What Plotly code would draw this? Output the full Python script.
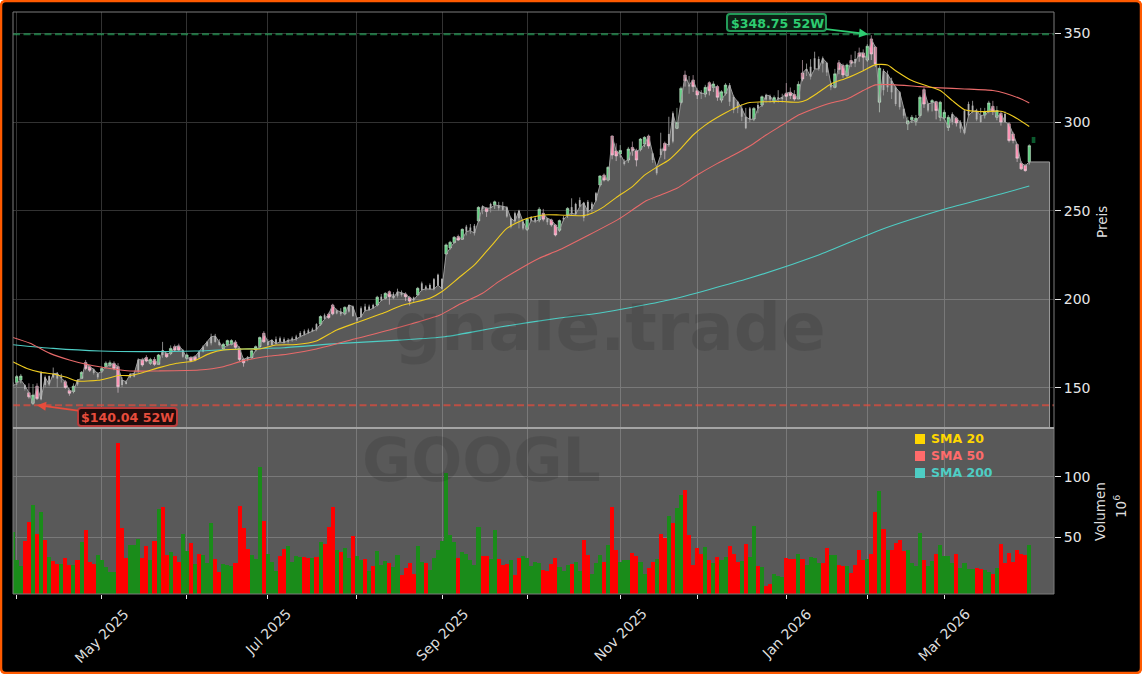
import plotly.graph_objects as go

W, H = 1142, 674
L, R, T, B = 13, 1054, 12, 594
SPLIT = 428

opens = [151,153,154.5,151.5,147.3,141.3,151,143.6,156,152,
158,158.3,155.5,153.5,148.5,148,154.5,155.4,164.4,162,
160.5,158,159.5,162,162.8,163.9,162,154.5,153.5,157.8,
158.2,166,165.8,167.2,163.9,166.1,163.3,171.4,169.5,169.5,
173.3,173.7,171.4,166.7,167.2,167.6,170.5,173.3,176,178.9,
179.3,176,172.3,174.2,174.6,175.9,172.3,166.1,167.2,167.2,
171.4,173.3,180.8,176,177,175,176,175.5,177,177,
177.5,179,180,181,182,183,186,189,191.6,196.8,
193.7,193,191.8,196.8,195.9,189.3,190,193.7,194,195,
196.8,199.3,200.6,204.3,200.6,204.3,203.8,203,201,199.5,
202.5,205.3,205.9,205.7,205.7,208,206,225.6,229,232,
235.4,233.9,238.2,238.8,237.3,244.2,252.5,251.4,251.5,253.2,
253,252.5,251.9,245.7,244,250,243.8,239.5,244.4,244,
244.8,248.5,245.7,244.8,241.9,239,245,247.6,248.5,248,
252.3,254.5,249.5,251,255.7,264.5,270.1,267.3,292.1,283.7,
282,277.7,278.6,285.7,283.7,284.6,287.6,292.1,282.4,274.5,
281.4,288,287,304.9,296.5,311.1,326.5,321,323.7,317.7,
316.5,315.8,322.2,319.6,320,312.4,316.2,320.9,314.3,311.5,
307.7,303,301.5,301.7,307.7,309.6,315.3,314.7,311.5,313,
314,316.3,316.8,315.5,313,327.7,330,325.6,330,330,
336,333.4,321.5,319.6,333.4,331.9,326.2,334.7,333.2,339,
339,335,346.9,342.2,311.2,329,327,323.4,319.6,316.8,
307.4,299,301.2,300.4,303.7,318.3,310.2,311,311.5,302.7,
302.2,297,304.6,302.2,300,293.7,303.7,306,306.5,303.7,
304,306,308.9,302.7,305,300,299,293.3,287.3,276.8,
275.5,277.5]

closes = [153,156.4,156.7,149.5,145,146,144,158.6,151.7,156.7,
156,155.3,156.5,150.3,147,151,152,158.8,161,160,
158.5,156,161,164,164.2,161,150.7,151.7,152.2,156,
156.4,159.2,163,165.2,166.1,163.3,168.6,168.6,167.6,172.3,
171.4,171.4,167.6,168.6,165.4,165.8,167.2,170.5,173.7,175.2,
176,174.2,174.6,176.7,176.7,172.9,166.1,164.2,165.8,171,
173.3,178.5,176,174.2,174.2,177.5,178,177.5,176,178,
179,181,182,182.5,183,186,190.3,191,189.7,191.8,
192,191.6,195.5,193.1,190.6,188,195,196,195.9,196.8,
201.2,201.5,203.4,201.5,203,202,202.5,201.5,199,201,
206.2,209,207.2,208.1,211.3,213.8,211.5,230.7,232.2,235,
233.5,239.5,241,240.5,241.5,251.9,251,249.5,253.8,255,
251.4,250.5,246.7,241,248.5,245.7,240,245.2,246,245.7,
250.8,245.2,243.5,242,236.3,244.4,246,251.3,252,253.8,
256,246,255,254,259.8,269.6,267.3,274.5,281.4,280.9,
284,276.3,284.8,283.9,278.6,290.4,291.4,286.5,278.6,271.1,
285,283.9,293.3,289,299.8,319,323.3,320,320,315.3,
316,319.6,317.7,321.5,314,317.1,320.9,311.5,306.8,307.7,
303,296.5,307.7,307.7,309.6,314.3,312.8,312.8,313.8,314,
313,314.5,315,313,321.3,324.3,329,331.2,336,335.6,
333,328,319.6,327.2,329.6,326.6,332.2,333.2,335.6,337.1,
336.6,342.8,338.4,332.8,330.4,318,319.6,316.8,310.2,308.4,
303.6,300.8,302.7,302.2,314,310.2,306.5,312.1,306.5,311.2,
305.5,302.7,300,299.5,296.3,306.5,310.2,309.3,301.5,300,
305.9,310.8,305.9,306.5,300,304.6,289.6,289.6,279.6,273.6,
272.6,286.7]

highs = [155,157.3,157.9,152,152.6,152.2,152.6,159.5,157,157,
161.5,159,158,154.5,149.8,152.6,155,159.5,165.8,163,
161,159,162,165,165.5,165,164,156,154.5,158.5,
159,166.7,167,168.5,167,167.5,169.2,176,170,174,
174.5,175,172,169.5,168,168.5,171,174,176.5,180.6,
180.5,177.5,175.5,177.3,177.5,177,173.5,167,168,171.5,
174,179,182,177.5,177.5,179,179,178.5,178,179,
180,182,183,183.5,184,186.5,191,192,192.5,197.5,
194.7,195,196,197,196.5,190,196,197.5,197,197.5,
202,203,204,205,204,206,205,204,202,201.5,
207,210,208,209,212,214.5,212,231.5,233,235.7,
236.5,240,242,242.5,242.5,252.5,253,252,254.5,255.7,
255,255,252.5,246.5,249.5,250.5,244.5,246,247,246.5,
252,251,246,245.5,242.5,245,247,252,257,254.5,
257.5,255,256,255,260.5,270,271,275,292.5,288,
287,279,286,289,285,291,292,293,283,275,
294,289,303,306,308,320,329,326,326.5,319,
318,321,323,323,321,318,322,322,315,312,
310,308,308.5,308.5,311,315,316,315.5,315,318,
316,322,319.5,318,323,335,333,335.5,339.7,337,
337,334,323,330,335,333,333,338,340,342,
341,344,349,343,332,330,329,325,320.5,317.5,
308,303,304,304,315,319.5,311,313,312,312,
307,304,305.5,303,301,307,311.5,312,307.5,308,
308,312,312,309,306,306,300,294.5,288,278,
276.5,287.5]

lows = [150,151.7,152.6,148.5,144,140.3,143.2,143,150.5,151,
155.5,150.3,153,149.5,145.6,147,151,155,160,159,
157.5,155,158.5,161,162,160,147.3,150.5,152,155.5,
156,158.5,162,164.5,163,162.5,163,167,167,168.5,
170.5,171,167,166,164.5,165,166.5,170,173,174,
175.5,173.5,171.5,173.5,174,172,165,162,165,166.5,
170.5,172.5,175.5,173.5,174,174.5,175.5,175,175,176,
176.5,178.5,179.5,180.5,181.5,182,185,188.5,189,191,
191.5,190.5,191,192.5,190,187,189.5,193,193.5,194.5,
196,199,200,197,200,201,201.5,199,196.5,198,
202,204.5,205,205.5,205,207.5,205.5,225,228,231.5,
233,233.5,236,237,236,243.5,248,246.5,249,251,
250,250,246,240,243,240,239,238.5,244,243,
243.5,244,242,241,235.5,238,244,246,247,247.5,
252,244,247,249,255,263.5,266.5,266.5,279,278,
280,275.5,277,281,275,283.5,286,285,277,270,
280,279,286,288,296,310,320,316,317,313,
313,314,315,317,312,311,315,309,305,305,
300.5,296,300,300.5,305,308.5,311,311,310.5,311,
311,312,313,312,313,323,326,324,330,329,
328,326,318,319,327,325,325,331,331,334,
329,334,335,331,305.5,315,317,313,309,307,
302,295.5,299.5,298,302.5,308,305.5,306,301.5,300.5,
301,295,298.5,297.5,294,293,303,305,300.5,299.5,
302,305,304,301,298,299.5,288.5,288,277.5,273,
272,276]

# candles that read as thin, pale bars in the reference
pale_idx = {0,3,7,8,9,10,11,12,16,20,21,27,28,29,30,31,37,42,46,47,48,49,50,51,58,63,64,65,66,67,68,69,70,71,72,73,74,75,77,80,81,83,84,85,86,87,88,89,91,94,95,96,99,101,102,103,104,105,106,112,113,114,116,118,120,121,122,123,124,125,126,128,129,132,136,138,139,140,141,142,143,144,151,158,159,160,162,163,167,170,177,178,179,180,181,182,184,186,187,189,190,196,197,198,199,200,201,202,208,215,216,217,218,219,220,226,232,234,235,236,237,238,239,245}

volumes = [54.6,31,26,47,62.6,76.5,52.7,70.5,47.8,33.6,
30.6,28,28,32.8,26.8,27.3,31.4,46.4,56,29.8,
27.9,35.5,31,25.7,21.3,21.3,128,58,33,44,
43.4,48.4,33,43,31,47,73,75,35.5,38,
34.7,29.8,52.5,39,45,28,36,35.8,29,62,
32,21.3,28,27,26.5,28.7,75.7,58,40,35.5,
32.5,108,63.4,36,29.5,22.4,34.7,40.4,42.6,29.5,
34.7,33.6,34,33,32.8,34,46.4,44.5,58.5,75,
39.6,38,41.3,32.8,51,34.7,31.4,32,21.9,26.5,
39,26.8,30.6,29,25.4,35.5,19,25,29,20,
43,30,29,23,33,39.6,47,103,51.6,46.4,
33,38,36,31.4,27,58.5,34.7,34.7,32,56,
32,27,28,31.4,19,33,34.7,33,26,30,
28.7,23,22,28,33,25.4,22,27,28,29.5,
22,48,35.5,20,28.7,35.5,30,43.4,74.6,39.6,
30,31,31.4,37.4,34.7,29.5,20,25,30,32,
52.5,49.7,67.8,61.7,73.8,85,88.8,51.6,26.8,41.5,
36,42,31.4,29,34,31,33.6,43,36,30,
30.6,44.5,33.6,59.6,26.5,25.4,10,11.7,20,18.3,
17,33,32,32,36,32,27,34,33,29,
29,41,35.5,35.5,27,26.6,26.6,21,27,39.6,
31,32,36,71,88,56.6,39.6,39.6,45,47.8,
38.7,39.6,28.6,26.6,53.3,31.3,26,30.5,36,44,
34.6,34.6,29,36,24.5,29,24,24,24.5,24,
23,21.4,20,25,44.5,29,37.4,29.4,39.6,36.5,
35.4,43.7]

vol_red_idx = {3,4,6,8,10,11,13,14,16,18,19,20,26,27,28,32,33,35,37,38,40,41,44,46,50,51,55,56,57,58,62,66,67,72,73,75,77,78,79,81,84,87,89,93,
96,97,98,99,102,110,116,117,120,121,122,124,125,131,132,133,134,138,141,142,146,148,149,153,154,157,158,160,161,163,166,167,168,169,170,172,174,177,178,179,181,184,186,187,191,192,193,195,200,201,204,
205,207,208,209,210,212,213,215,217,218,219,220,225,228,233,238,239,242,244,245,246,247,248,249,250}

sma20_x = [0,3.5,7,10,13.3,16,21,24,26,29,32.3,36.4,40.5,44.6,48.7,52,57,61,65,70,75,80,85,91,96,103,106,110,114,118,122,126,131,135,141,143,146,149,153,156,159,162,165,168,171,175,179,182,186,190,194,196,199,202,206,210,213,216,218,222,226,229,232,235,239,244,247,251]
sma20 = [164.8,161,158.8,157.9,156,153.9,154.3,155.8,157,157,158.8,161.6,163.9,165.2,169.5,171.4,172,172,174.2,174.5,176.5,182.7,186.9,191.8,196.5,200.6,204.4,211.9,219.4,229.7,240,244.8,247.6,247.6,247.2,248.5,252.3,257.4,263.6,270.1,274.5,278.6,285.2,292.7,298.3,304,308.7,311,311.5,311.6,311.2,312.5,316.8,321.5,324.9,329,332.4,332.2,329,323.4,320.2,317.8,312.1,307,305.9,306.1,303.3,297.5]

sma50_x = [0,4.3,9.2,14,19,24,29,36,46,52,57,63.5,67.7,75,85,93,105.5,110,116,120,124,130,135,149.5,153,156,160,164,169,174,178,182,186,190,194,198,202,206,210,213,217,224,229,235,242,245,249,251]
sma50 = [178.5,175.2,169.5,165.8,162.9,161,159.6,159.6,160.1,162,165.4,168,169,172,178,182.7,191.2,196.8,203.4,210,215.6,223.2,227.9,245.1,250.4,255.1,258.9,262.6,270.1,276.7,281.4,286.5,292.7,298.3,304,307.7,310.8,313,317.8,321,321.1,320,319.3,318.7,317.8,316.3,313,310.8]

sma200_x = [0,10,21.6,32,45,57,67,80,95.6,106.7,120.3,135,145,162,182,199,214,231,244,251]
sma200 = [174.4,172.3,170.8,170.5,170.8,172,172.7,175,177,178.9,184.4,189.5,192.3,199.6,212,225,239,251.5,259.4,263.9]

low_52w, high_52w = 140.3, 349.6
tick_pos = [1,22,43,63,85,106,127,150,169,191,211,230]
tick_names = ["", "May 2025", "", "Jul 2025", "", "Sep 2025", "", "Nov 2025", "", "Jan 2026", "", "Mar 2026"]
FUTURE_X = 256
X_RANGE = [0.07, 257.1]
VOL_RANGE = [3.3, 140.1]

idx = list(range(len(opens)))
fx = lambda px: (px - L) / (R - L)
fy = lambda py: (B - py) / (B - T)

def rounded(x0, y0, x1, y1, r):
    """Rounded rectangle path given in pixels, written in paper coordinates."""
    return (f"M {fx(x0+r)} {fy(y0)} L {fx(x1-r)} {fy(y0)} Q {fx(x1)} {fy(y0)} {fx(x1)} {fy(y0+r)} "
            f"L {fx(x1)} {fy(y1-r)} Q {fx(x1)} {fy(y1)} {fx(x1-r)} {fy(y1)} "
            f"L {fx(x0+r)} {fy(y1)} Q {fx(x0)} {fy(y1)} {fx(x0)} {fy(y1-r)} "
            f"L {fx(x0)} {fy(y0+r)} Q {fx(x0)} {fy(y0)} {fx(x0+r)} {fy(y0)} Z")

fig = go.Figure()

# close-area (follows the open as drawn in the reference), extended flat into the future gap
fig.add_trace(go.Scatter(x=idx + [FUTURE_X, FUTURE_X], y=opens + [opens[-1], 100], mode="lines",
                         line=dict(color="rgb(155,155,155)", width=1), fill="tozeroy",
                         fillcolor="rgba(255,255,255,0.35)", hoverinfo="skip", showlegend=False))

# pale candles
wx, wy, bx, by = [], [], [], []
for i in sorted(pale_idx):
    wx += [i, i, None]; wy += [lows[i], highs[i], None]
    bx += [i, i, None]; by += [opens[i], closes[i], None]
fig.add_trace(go.Scatter(x=wx, y=wy, mode="lines", line=dict(color="rgb(150,150,150)", width=0.9),
                         hoverinfo="skip", showlegend=False))
fig.add_trace(go.Scatter(x=bx, y=by, mode="lines", line=dict(color="rgb(178,178,178)", width=1.8),
                         hoverinfo="skip", showlegend=False))

# vivid candles
vi = [i for i in idx if i not in pale_idx]
fig.add_trace(go.Candlestick(
    x=vi, open=[opens[i] for i in vi], high=[highs[i] for i in vi],
    low=[lows[i] for i in vi], close=[closes[i] for i in vi],
    increasing=dict(line=dict(color="rgb(190,215,195)", width=0.6), fillcolor="#5fd080"),
    decreasing=dict(line=dict(color="rgb(225,190,205)", width=0.6), fillcolor="#ff4f86"),
    showlegend=False, hoverinfo="skip"))

for xs, ys, col in [(sma200_x, sma200, "#4ECDC4"), (sma50_x, sma50, "#E86A6A"), (sma20_x, sma20, "#F0CC20")]:
    fig.add_trace(go.Scatter(x=xs, y=ys, mode="lines", line=dict(color=col, width=1.1, shape="spline", smoothing=0.6),
                             hoverinfo="skip", showlegend=False))

# grey volume panel, then the volume bars over it
fig.add_trace(go.Bar(x=[sum(X_RANGE) / 2], y=[VOL_RANGE[1] - VOL_RANGE[0]], base=[VOL_RANGE[0]],
                     width=[X_RANGE[1] - X_RANGE[0]], yaxis="y2",
                     marker=dict(color="rgba(255,255,255,0.35)", line=dict(width=0)),
                     hoverinfo="skip", showlegend=False))
fig.add_trace(go.Bar(x=idx, y=volumes, yaxis="y2", width=1.0,
                     marker=dict(color=["#ff0000" if i in vol_red_idx else "#1a8c1a" for i in idx], line=dict(width=0)),
                     hoverinfo="skip", showlegend=False))

shapes = [
    # card with orange rounded border
    dict(type="path", xref="paper", yref="paper", layer="below", path=rounded(1, 1, W-1, H-1, 5),
         fillcolor="black", line=dict(color="#FF5A00", width=2.5)),
    # 52-week lines
    dict(type="line", xref="paper", yref="y", x0=0, x1=1, y0=high_52w, y1=high_52w, layer="above",
         line=dict(color="rgba(46,204,113,0.55)", width=2, dash="7px,3.5px")),
    dict(type="line", xref="paper", yref="y", x0=0, x1=1, y0=low_52w, y1=low_52w, layer="above",
         line=dict(color="rgba(231,76,60,0.7)", width=2, dash="7px,3.5px")),
    # frame and separator
    dict(type="rect", xref="paper", yref="paper", x0=0, x1=1, y0=0, y1=1, layer="above",
         line=dict(color="rgb(125,125,125)", width=1)),
    dict(type="line", xref="paper", yref="paper", x0=0, x1=1, y0=fy(SPLIT), y1=fy(SPLIT), layer="above",
         line=dict(color="rgb(165,165,165)", width=2)),
    # small dark-green flag after the last candle
    dict(type="rect", xref="x", yref="y", x0=251.6, x1=252.5, y0=288.2, y1=291.6, layer="above",
         fillcolor="#0b5a2e", line=dict(width=0)),
    # rounded callout boxes
    dict(type="path", xref="paper", yref="paper", layer="above", path=rounded(727, 14, 826, 31, 3),
         fillcolor="#0c1f14", line=dict(color="#229a58", width=2)),
    dict(type="path", xref="paper", yref="paper", layer="above", path=rounded(78, 408, 177, 426, 3),
         fillcolor="#1f0c0c", line=dict(color="#b83c3c", width=2)),
]
for py, col in [(439, "#FFD700"), (456, "#FF6B6B"), (473, "#4ECDC4")]:
    shapes.append(dict(type="rect", xref="paper", yref="paper", x0=fx(915), x1=fx(925), y0=fy(py-5), y1=fy(py+5),
                       fillcolor=col, line=dict(width=0), layer="above"))

ann = []
def text(px, py, s, color="#dddddd", size=13, angle=0, bold=False, xanchor="center", yanchor="middle"):
    ann.append(dict(x=fx(px), y=fy(py), xref="paper", yref="paper", text=f"<b>{s}</b>" if bold else s,
                    showarrow=False, textangle=angle, xanchor=xanchor, yanchor=yanchor,
                    font=dict(family="DejaVu Sans", size=size, color=color)))

# watermarks
text(828, 327, "gnale.trade", "rgba(0,0,0,0.10)", 66, bold=True, xanchor="right")
text(481, 460, "GOOGL", "rgba(0,0,0,0.10)", 60, bold=True)
# legend
for py, col, s in [(438, "#FFD700", "SMA 20"), (455, "#FF6B6B", "SMA 50"), (472, "#4ECDC4", "SMA 200")]:
    text(929, py, s, col, 12.5, bold=True, xanchor="left")
# axis labels
text(1102, 222, "Preis", "#dddddd", 13.5, angle=-90)
text(1100, 512, "Volumen", "#dddddd", 13.5, angle=-90)
text(1120, 507, "10<sup>6</sup>", "#dddddd", 13.5, angle=-90)
# month labels centred under their ticks
for pos, name in zip(tick_pos, tick_names):
    if name:
        ann.append(dict(x=pos, xref="x", y=fy(603), yref="paper", text=name, showarrow=False, textangle=-45,
                        xanchor="center", yanchor="top", font=dict(family="DejaVu Sans", size=14, color="#dddddd")))
# 52-week callouts
ann.append(dict(x=211.2, y=high_52w, xref="x", yref="y", text="<b>$348.75 52W</b>", ax=-91, ay=-11,
                showarrow=True, arrowhead=2, arrowsize=1, arrowwidth=1.8, arrowcolor="#2ecc71",
                borderpad=2, font=dict(family="DejaVu Sans", size=12.6, color="#2ecc71")))
ann.append(dict(x=6, y=low_52w, xref="x", yref="y", text="<b>$140.04 52W</b>", ax=90, ay=12,
                showarrow=True, arrowhead=2, arrowsize=1, arrowwidth=1.8, arrowcolor="#e74c3c",
                borderpad=2, font=dict(family="DejaVu Sans", size=12.6, color="#e74c3c")))

grid = "rgb(50,50,50)"
axis_font = dict(family="DejaVu Sans", size=14, color="#e6e6e6")
split = fy(SPLIT)
fig.update_layout(
    width=W, height=H, autosize=False, margin=dict(l=L, r=W-R, t=T, b=H-B, pad=0),
    paper_bgcolor="white", plot_bgcolor="rgba(0,0,0,0)", barmode="overlay", bargap=0, boxgap=0.12, showlegend=False,
    font=dict(family="DejaVu Sans"), shapes=shapes, annotations=ann,
    xaxis=dict(range=X_RANGE, anchor="y2", tickmode="array", tickvals=tick_pos, ticktext=tick_names,
               showticklabels=False, ticks="outside", ticklen=4, tickcolor="#e6e6e6", tickwidth=1,
               showgrid=True, gridcolor=grid, gridwidth=1, zeroline=False, showline=False,
               rangeslider=dict(visible=False)),
    yaxis=dict(domain=[split, 1], range=[127.4, 362.1], anchor="x", side="right", tickmode="array",
               tickvals=[150, 200, 250, 300, 350], ticks="outside", ticklen=6, tickcolor="#e6e6e6",
               tickfont=axis_font, showgrid=True, gridcolor=grid, gridwidth=1, zeroline=False, showline=False),
    yaxis2=dict(domain=[0, split], range=VOL_RANGE, anchor="x", side="right", tickmode="array",
                tickvals=[50, 100], ticks="outside", ticklen=6, tickcolor="#e6e6e6",
                tickfont=axis_font, showgrid=True, gridcolor=grid, gridwidth=1, zeroline=False, showline=False),
)

fig.write_html("out.html", config=dict(displayModeBar=False),
               post_script="document.body.style.margin='0';document.body.style.overflow='hidden';")
